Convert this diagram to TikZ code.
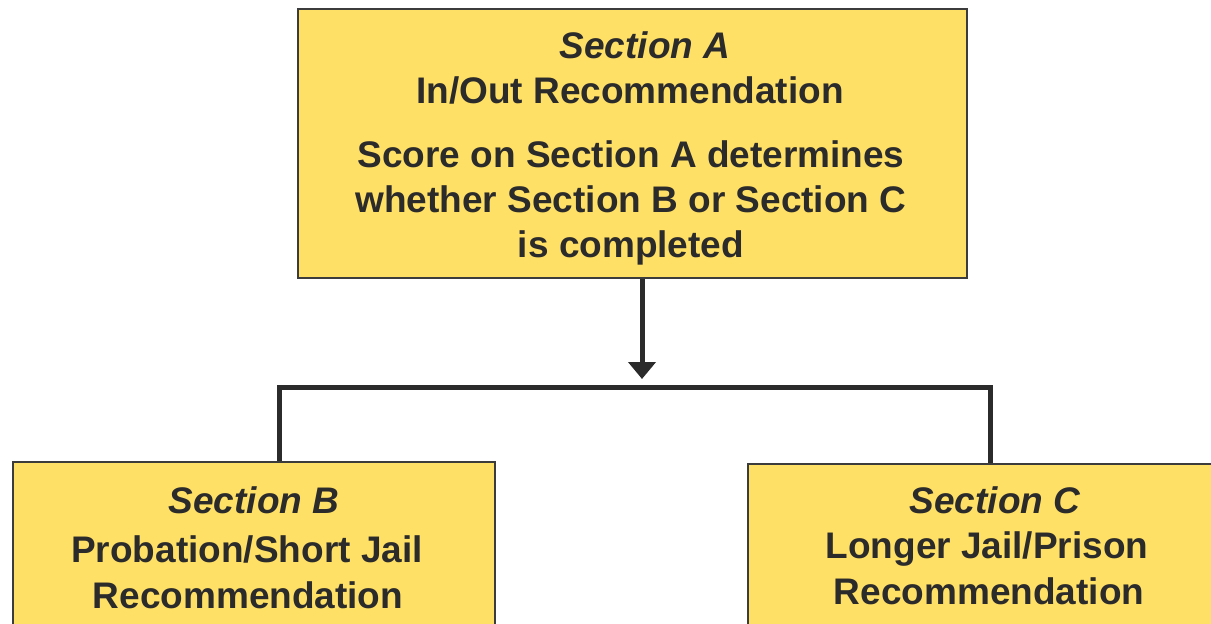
\documentclass[tikz,border=0pt]{standalone}
\usepackage{fontspec}
\setmainfont{Liberation Sans}
\usetikzlibrary{arrows.meta}
\definecolor{boxfill}{HTML}{FFE066}
\definecolor{ink}{HTML}{2B2B2B}
\definecolor{edge}{HTML}{3C3C3C}
\begin{document}
\begin{tikzpicture}[x=1pt,y=-1pt,
  sectionbox/.style={draw=edge,line width=1.5pt,fill=boxfill,rectangle,inner sep=0pt,anchor=north west},
  label/.style={text=ink,font=\fontsize{37}{44}\selectfont\bfseries,anchor=base,inner sep=0pt},
  heading/.style={label,font=\fontsize{37}{44}\selectfont\bfseries\itshape},
  link/.style={draw=ink,line width=5pt,line join=miter}]
\useasboundingbox (0,0) rectangle (1211,624);
\clip (0,0) rectangle (1211,624);

% section boxes
\node[sectionbox,minimum width=669pt,minimum height=269pt] (secA) at (297,8) {};
\node[sectionbox,minimum width=482pt,minimum height=220pt] (secB) at (12,461) {};
\node[sectionbox,minimum width=520pt,minimum height=220pt] (secC) at (747,463) {};

% connectors
\coordinate (drop) at (642,379);
\coordinate (bl) at (279.5,387.5);
\coordinate (br) at (990,387.5);
\draw[link,-{Triangle[width=27pt,length=17pt]}] (secA.south -| drop) -- (drop);
\draw[link] (secB.north -| bl) -- (bl) -- (br) -- (secC.north -| br);

% texts of section A
\node[heading] (a1) at (645,58.8) {Section A};
\node[label] (a2) at (630,103.5) {In/Out Recommendation};
\node[label] (a3) at (631,167.2) {Score on Section A determines};
\node[label] (a4) at (631,212.2) {whether Section B or Section C};
\node[label] (a5) at (631,257.2) {is completed};

% texts of section B
\node[heading] (b1) at (254,513.2) {Section B};
\node[label] (b2) at (247,562.8) {Probation/Short Jail};
\node[label] (b3) at (248,608.5) {Recommendation};

% texts of section C
\node[heading] (c1) at (995,513.2) {Section C};
\node[label] (c2) at (987,558.8) {Longer Jail/Prison};
\node[label] (c3) at (989,604.5) {Recommendation};
\end{tikzpicture}
\end{document}
